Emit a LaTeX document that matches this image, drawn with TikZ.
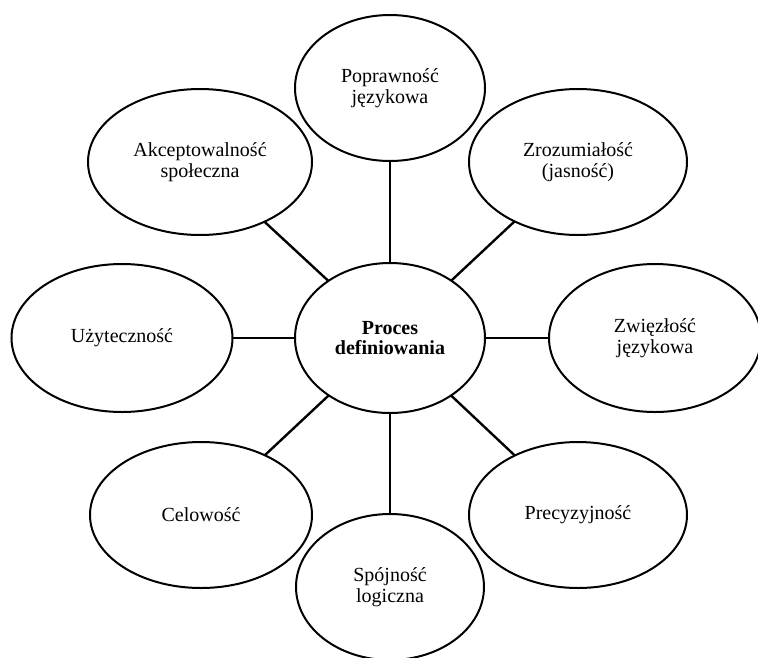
\documentclass[tikz,border=0pt]{standalone}
\usepackage{fontspec}
\setmainfont{Liberation Serif}
\usetikzlibrary{shapes.geometric}
\begin{document}
\begin{tikzpicture}[x=1pt,y=-1pt,
  bubble/.style={ellipse, draw, line width=2pt, inner sep=0pt, outer sep=0pt,
    align=center, font=\fontsize{20}{20.5}\selectfont},
  link/.style={line width=2.4pt}]
\useasboundingbox (0,0) rectangle (758,657);

% central idea
\node[bubble, minimum width=190pt, minimum height=150pt,
  font=\fontsize{20}{20.5}\selectfont\bfseries] (core) at (390,338) {Proces\\definiowania};

% surrounding qualities
\node[bubble, minimum width=190pt, minimum height=146pt] (popr) at (390,88) {Poprawność\\językowa};
\node[bubble, minimum width=218pt, minimum height=146pt] (zroz) at (578,162) {Zrozumiałość\\(jasność)};
\node[bubble, minimum width=212pt, minimum height=148pt] (zwiez) at (655,338) {Zwięzłość\\językowa};
\node[bubble, minimum width=218pt, minimum height=146pt] (prec) at (578,515) {Precyzyjność};
\node[bubble, minimum width=188pt, minimum height=146pt] (spoj) at (390,587) {Spójność\\logiczna};
\node[bubble, minimum width=222pt, minimum height=146pt] (celo) at (201,515) {Celowość};
\node[bubble, minimum width=221pt, minimum height=148pt] (uzyt) at (122,338) {Użyteczność};
\node[bubble, minimum width=224pt, minimum height=146pt] (akce) at (200,162) {Akceptowalność\\społeczna};

% spokes
\foreach \n in {popr,zroz,zwiez,prec,spoj,celo,uzyt,akce}
  \draw[link] (core) -- (\n);
\end{tikzpicture}
\end{document}
